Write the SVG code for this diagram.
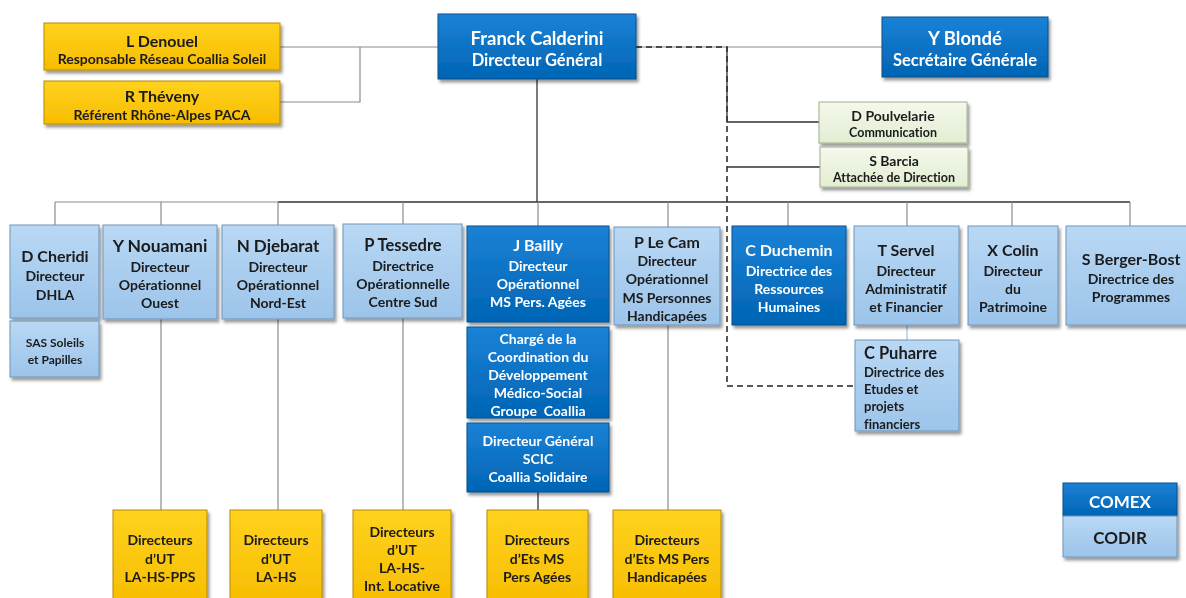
<svg xmlns="http://www.w3.org/2000/svg" width="1186" height="598" viewBox="0 0 1186 598">
<style>
text{font-family:Lato,"Open Sans","Liberation Sans",sans-serif;font-weight:bold;text-anchor:middle;dominant-baseline:central;font-variant-ligatures:none}
.w{fill:#ffffff}
.k{fill:#1a1a1a}
.n{font-size:16px}
.s{font-size:14px}
.t{font-size:12px}
.dk{fill:url(#gBlue);stroke:#0a4f8c;stroke-width:1}
.lt{fill:url(#gLight);stroke:#6f95ba;stroke-width:1}
.yl{fill:url(#gYellow);stroke:#b88a00;stroke-width:1}
.gr{fill:url(#gGreen);stroke:#9fb08e;stroke-width:1}
.box{filter:url(#sh)}
.c{fill:none;stroke:#8c8c8c;stroke-width:1.2}
.cd{fill:none;stroke:#333333;stroke-width:1.3}
.dash{fill:none;stroke:#222222;stroke-width:1.5;stroke-dasharray:6 4}
</style>
<defs>
<linearGradient id="gBlue" x1="0" y1="0" x2="0" y2="1"><stop offset="0" stop-color="#1b82d6"/><stop offset="1" stop-color="#0064b4"/></linearGradient>
<linearGradient id="gLight" x1="0" y1="0" x2="0" y2="1"><stop offset="0" stop-color="#b9d8f4"/><stop offset="1" stop-color="#9cc4ea"/></linearGradient>
<linearGradient id="gYellow" x1="0" y1="0" x2="0" y2="1"><stop offset="0" stop-color="#ffd21e"/><stop offset="1" stop-color="#f7bd00"/></linearGradient>
<linearGradient id="gGreen" x1="0" y1="0" x2="0" y2="1"><stop offset="0" stop-color="#f4f9ec"/><stop offset="1" stop-color="#e2edd2"/></linearGradient>
<filter id="sh" x="-10%" y="-10%" width="130%" height="140%"><feDropShadow dx="2" dy="3" stdDeviation="1.5" flood-color="#000" flood-opacity="0.4"/></filter>
</defs>
<rect width="1186" height="598" fill="#ffffff"/>
<g id="connectors">
<path class="c" d="M280 47H438M280 102H360V47"/>
<path class="c" d="M636 47H882"/>
<path class="dash" d="M636 47H727V386H855"/>
<path class="cd" d="M727 47V122H819M727 167H820"/>
<path class="cd" d="M537 79V202"/>
<path class="c" d="M55 202H278"/>
<path class="cd" d="M278 202H1130"/>
<path class="c" d="M55 202V225M161 202V225M278 202V225M403 202V224M538 202V226M668 202V227M788 202V226M907 202V226M1012 202V226M1130 202V226"/>
<path class="c" d="M161 319V510M278 319V510M403 318V510M668 325V510"/>
<path class="cd" d="M538 492V510"/>
<path d="M907 325V340" fill="none" stroke="#9cc4ea" stroke-width="1.2"/>
</g>
<g id="denouel" class="box"><rect class="yl" x="44" y="23" width="236" height="47"/><text class="k n" x="162" y="40">L Denouel</text><text class="k s" x="162" y="58">Responsable Réseau Coallia Soleil</text></g>
<g id="theveny" class="box"><rect class="yl" x="44" y="81" width="236" height="43"/><text class="k n" x="162" y="95">R Théveny</text><text class="k s" x="162" y="114">Référent Rhône-Alpes PACA</text></g>
<g id="franck" class="box"><rect class="dk" x="438" y="14" width="198" height="65"/><text class="w" style="font-size:18.5px" x="537" y="38">Franck Calderini</text><text class="w" style="font-size:16.5px" x="537" y="60">Directeur Général</text></g>
<g id="blonde" class="box"><rect class="dk" x="882" y="17" width="166" height="60"/><text class="w" style="font-size:18.5px" x="965" y="38">Y Blondé</text><text class="w" style="font-size:16.5px" x="965" y="60">Secrétaire Générale</text></g>
<g id="poulvelarie" class="box"><rect class="gr" x="819" y="102" width="148" height="41"/><text class="k" style="font-size:14px" x="893" y="115">D Poulvelarie</text><text class="k" style="font-size:12.5px" x="893" y="132">Communication</text></g>
<g id="barcia" class="box"><rect class="gr" x="820" y="147" width="148" height="40"/><text class="k" style="font-size:14px" x="894" y="160">S Barcia</text><text class="k" style="font-size:12.5px" x="894" y="177">Attachée de Direction</text></g>
<g id="cheridi" class="box"><rect class="lt" x="10" y="225" width="89" height="93"/><text class="k n" x="55" y="255">D Cheridi</text><text class="k s" x="55" y="275">Directeur</text><text class="k s" x="55" y="294">DHLA</text></g>
<g id="sas" class="box"><rect class="lt" x="10" y="321" width="89" height="56"/><text class="k t" x="55" y="342">SAS Soleils</text><text class="k t" x="55" y="359">et Papilles</text></g>
<g id="nouamani" class="box"><rect class="lt" x="103" y="225" width="114" height="94"/><text class="k" style="font-size:17.5px" x="160" y="245">Y Nouamani</text><text class="k s" x="160" y="266">Directeur</text><text class="k s" x="160" y="284">Opérationnel</text><text class="k s" x="160" y="302">Ouest</text></g>
<g id="djebarat" class="box"><rect class="lt" x="222" y="225" width="112" height="94"/><text class="k" style="font-size:17px" x="278" y="245">N Djebarat</text><text class="k s" x="278" y="266">Directeur</text><text class="k s" x="278" y="284">Opérationnel</text><text class="k s" x="278" y="302">Nord-Est</text></g>
<g id="tessedre" class="box"><rect class="lt" x="343" y="224" width="119" height="94"/><text class="k" style="font-size:16.5px" x="403" y="245">P Tessedre</text><text class="k s" x="403" y="265">Directrice</text><text class="k s" x="403" y="283">Opérationnelle</text><text class="k s" x="403" y="301">Centre Sud</text></g>
<g id="bailly" class="box"><rect class="dk" x="467" y="226" width="142" height="96"/><text class="w n" x="538" y="244">J Bailly</text><text class="w s" x="538" y="265">Directeur</text><text class="w s" x="538" y="283">Opérationnel</text><text class="w s" x="538" y="301">MS Pers. Agées</text></g>
<g id="charge" class="box"><rect class="dk" x="467" y="327" width="142" height="91"/><text class="w s" x="538" y="338">Chargé de la</text><text class="w s" x="538" y="356">Coordination du</text><text class="w s" x="538" y="374">Développement</text><text class="w s" x="538" y="392">Médico-Social</text><text class="w s" x="538" y="410" xml:space="preserve">Groupe  Coallia</text></g>
<g id="scic" class="box"><rect class="dk" x="467" y="423" width="142" height="69"/><text class="w s" x="538" y="440">Directeur Général</text><text class="w s" x="538" y="458">SCIC</text><text class="w s" x="538" y="476">Coallia Solidaire</text></g>
<g id="lecam" class="box"><rect class="lt" x="614" y="227" width="106" height="98"/><text class="k n" x="667" y="241">P Le Cam</text><text class="k s" x="667" y="260">Directeur</text><text class="k s" x="667" y="278">Opérationnel</text><text class="k s" x="667" y="297">MS Personnes</text><text class="k s" x="667" y="315">Handicapées</text></g>
<g id="duchemin" class="box"><rect class="dk" x="732" y="226" width="114" height="99"/><text class="w n" x="789" y="249">C Duchemin</text><text class="w s" x="789" y="270">Directrice des</text><text class="w s" x="789" y="288">Ressources</text><text class="w s" x="789" y="306">Humaines</text></g>
<g id="servel" class="box"><rect class="lt" x="854" y="226" width="105" height="99"/><text class="k n" x="906" y="249">T Servel</text><text class="k s" x="906" y="270">Directeur</text><text class="k s" x="906" y="288">Administratif</text><text class="k s" x="906" y="306">et Financier</text></g>
<g id="colin" class="box"><rect class="lt" x="968" y="226" width="90" height="99"/><text class="k n" x="1013" y="249">X Colin</text><text class="k s" x="1013" y="270">Directeur</text><text class="k s" x="1013" y="288">du</text><text class="k s" x="1013" y="306">Patrimoine</text></g>
<g id="bergerbost" class="box"><rect class="lt" x="1066" y="226" width="124" height="99"/><text class="k n" x="1131" y="258">S Berger-Bost</text><text class="k s" x="1131" y="278">Directrice des</text><text class="k s" x="1131" y="296">Programmes</text></g>
<g id="puharre" class="box"><rect class="lt" x="855" y="340" width="104" height="91"/><text class="k" style="text-anchor:start;font-size:16.5px" x="864" y="353">C Puharre</text><text class="k" style="text-anchor:start;font-size:13px" x="864" y="372">Directrice des</text><text class="k" style="text-anchor:start;font-size:13px" x="864" y="389">Etudes et</text><text class="k" style="text-anchor:start;font-size:13px" x="864" y="406">projets</text><text class="k" style="text-anchor:start;font-size:13px" x="864" y="424">financiers</text></g>
<g id="ut-pps" class="box"><rect class="yl" x="113" y="510" width="94" height="96"/><text class="k s" x="160" y="539">Directeurs</text><text class="k s" x="160" y="558">d’UT</text><text class="k s" x="160" y="576">LA-HS-PPS</text></g>
<g id="ut-hs" class="box"><rect class="yl" x="230" y="510" width="92" height="96"/><text class="k s" x="276" y="539">Directeurs</text><text class="k s" x="276" y="558">d’UT</text><text class="k s" x="276" y="576">LA-HS</text></g>
<g id="ut-loc" class="box"><rect class="yl" x="353" y="510" width="98" height="96"/><text class="k s" x="402" y="531">Directeurs</text><text class="k s" x="402" y="549">d’UT</text><text class="k s" x="402" y="567">LA-HS-</text><text class="k s" x="402" y="585">Int. Locative</text></g>
<g id="ets-pa" class="box"><rect class="yl" x="487" y="510" width="101" height="96"/><text class="k s" x="537" y="539">Directeurs</text><text class="k s" x="537" y="558">d’Ets MS</text><text class="k s" x="537" y="576">Pers Agées</text></g>
<g id="ets-ph" class="box"><rect class="yl" x="613" y="510" width="108" height="96"/><text class="k s" x="667" y="539">Directeurs</text><text class="k s" x="667" y="558">d’Ets MS Pers</text><text class="k s" x="667" y="576">Handicapées</text></g>
<g id="legend" class="box"><rect class="dk" x="1063" y="483" width="114" height="33"/><text class="w" style="font-size:17px" x="1120" y="501">COMEX</text><rect class="lt" x="1063" y="516" width="114" height="41"/><text class="k" style="font-size:17px" x="1120" y="537">CODIR</text></g>
</svg>
